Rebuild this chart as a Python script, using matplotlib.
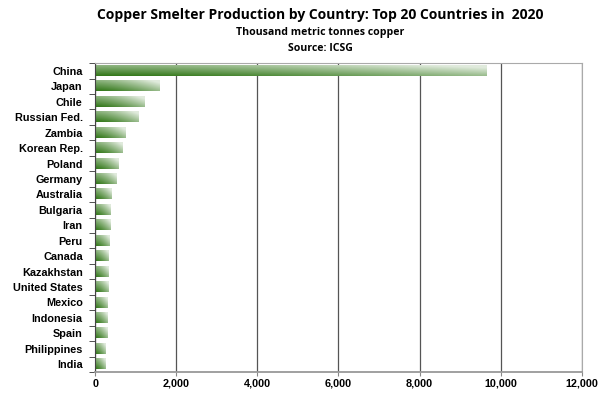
import numpy as np
import matplotlib
matplotlib.use('Agg')
import matplotlib.pyplot as plt
from matplotlib.ticker import FuncFormatter, FixedLocator

countries = ['China', 'Japan', 'Chile', 'Russian Fed.', 'Zambia', 'Korean Rep.',
             'Poland', 'Germany', 'Australia', 'Bulgaria', 'Iran', 'Peru', 'Canada',
             'Kazakhstan', 'United States', 'Mexico', 'Indonesia', 'Spain',
             'Philippines', 'India']
production = [9660, 1600, 1215, 1068, 756, 682, 584, 526, 411, 386, 370, 362,
              345, 345, 328, 312, 296, 296, 271, 254]

dark = np.array([0.20, 0.47, 0.10])
light = np.array([1.0, 1.0, 1.0])

def bar_image(n=40, m=20):
    u = np.linspace(0, 1, n)[None, :]
    v = np.linspace(0, 1, m)[:, None]
    t = 0.5 * u ** 1.5 + 0.45 * v
    t = np.clip(t, 0, 0.85)
    img = dark[None, None, :] * (1 - t[..., None]) + light[None, None, :] * t[..., None]
    return img

fig = plt.figure(figsize=(6.06, 3.97), dpi=100)
ax = fig.add_axes([0.157, 0.063, 0.803, 0.778])

h = 0.66
img = bar_image()
for i, val in enumerate(production):
    ax.imshow(img, extent=[0, val, i + h / 2, i - h / 2], origin='lower',
              aspect='auto', zorder=2, interpolation='bilinear')

ax.set_xlim(0, 12000)
ax.set_ylim(len(countries) - 0.5, -0.5)
ax.set_aspect('auto')

ax.set_xticks(range(0, 12001, 2000))
ax.xaxis.set_major_formatter(FuncFormatter(lambda x, p: '{:,.0f}'.format(x)))
ax.grid(axis='x', color='#555555', linewidth=0.9, zorder=0)
ax.set_axisbelow(True)

ax.set_yticks(range(len(countries)))
ax.set_yticklabels(countries)
ax.yaxis.set_minor_locator(FixedLocator(np.arange(-0.5, len(countries), 1)))
ax.tick_params(axis='y', which='major', length=0, pad=9)
ax.tick_params(axis='y', which='minor', length=4, color='#333333')
ax.tick_params(axis='x', length=3, color='#888888', pad=2)

for lab in ax.get_xticklabels() + ax.get_yticklabels():
    lab.set_fontfamily('Liberation Sans')
    lab.set_fontweight('bold')
    lab.set_fontsize(7.8)

for s in ax.spines.values():
    s.set_color('#aaaaaa')
ax.spines['left'].set_color('#444444')
ax.spines['bottom'].set_color('#999999')
ax.spines['bottom'].set_linewidth(1.3)

fig.text(0.528, 0.962, 'Copper Smelter Production by Country: Top 20 Countries in  2020',
         ha='center', va='center', fontsize=10, fontweight='bold', family='Open Sans')
fig.text(0.528, 0.917, 'Thousand metric tonnes copper', ha='center', va='center',
         fontsize=7.6, fontweight='bold', family='Open Sans')
fig.text(0.528, 0.879, 'Source: ICSG', ha='center', va='center',
         fontsize=7.6, fontweight='bold', family='Open Sans')

plt.savefig('out.png', dpi=100)
